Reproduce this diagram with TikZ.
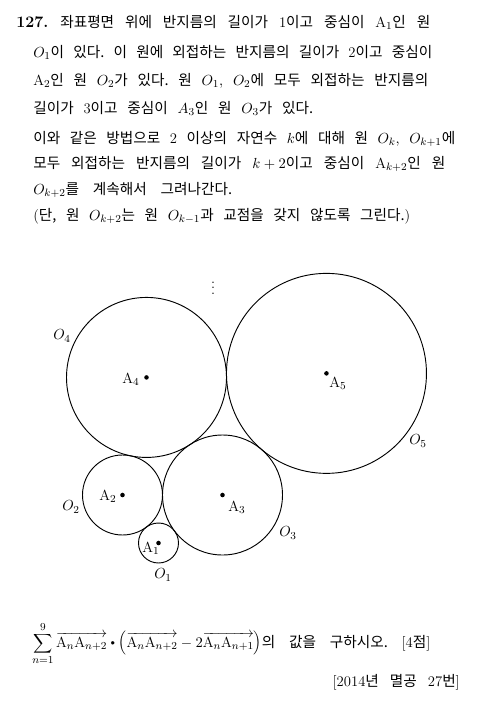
\documentclass[tikz,border=0pt]{standalone}
\usepackage{fontspec}
\newfontfamily\kr{Noto Sans CJK KR}
\newcommand\K[1]{{\fontsize{11pt}{13pt}\kr #1}}
\newdimen\pxu \pxu=0.75pt
\newcommand\smalldot{\mathbin{\vcenter{\hbox{\scalebox{0.6}{$\bullet$}}}}}
\tikzset{
  txt/.style={anchor=base west, inner sep=0pt,
    font={\fontsize{11pt}{13pt}\selectfont\frenchspacing\spaceskip=4.5pt plus 30pt minus 3pt}},
  lbl/.style={inner sep=0pt, font={\fontsize{11pt}{13pt}\selectfont}},
  circ/.style={line width=0.7pt},
  ctr/.style={circle, fill=black, inner sep=0pt, minimum size=3.4pt}
}
\begin{document}
\begin{tikzpicture}[x=0.75pt,y=-0.75pt]
\useasboundingbox (0,0) rectangle (478,703);

% ---------- problem text ----------
\node[anchor=base west, inner sep=0pt, font={\fontsize{12pt}{14pt}\selectfont\bfseries}] (num) at (16,27) {127.};
\node[txt] (l1) at (60,27) {\makebox[370\pxu][s]{\K{좌표평면 위에 반지름의 길이가} 1\K{이고 중심이} $\mathrm{A}_1$\K{인 원}}};
\node[txt] (l2) at (33,57) {\makebox[399\pxu][s]{$O_1$\K{이 있다. 이 원에 외접하는 반지름의 길이가} 2\K{이고 중심이}}};
\node[txt] (l3) at (33,85) {\makebox[395\pxu][s]{$\mathrm{A}_2$\K{인 원} $O_2$\K{가 있다. 원} $O_1,$ $O_2$\K{에 모두 외접하는 반지름의}}};
\node[txt] (l4) at (33,113) {\makebox[280\pxu][s]{\K{길이가} 3\K{이고 중심이} $A_3$\K{인 원} $O_3$\K{가 있다.}}};
\node[txt] (l5) at (33,143) {\makebox[422\pxu][s]{\K{이와 같은 방법으로} 2 \K{이상의 자연수} $k$\K{에 대해 원} $O_k,$ $O_{k+1}$\K{에}}};
\node[txt] (l6) at (33,168) {\makebox[412\pxu][s]{\K{모두 외접하는 반지름의 길이가} $k+2$\K{이고 중심이} $\mathrm{A}_{k+2}$\K{인 원}}};
\node[txt] (l7) at (33,194) {\makebox[199\pxu][s]{$O_{k+2}$\K{를 계속해서 그려나간다.}}};
\node[txt] (l8) at (33,220) {\makebox[377\pxu][s]{(\K{단,} \K{원} $O_{k+2}$\K{는 원} $O_{k-1}$\K{과 교점을 갖지 않도록 그린다.})}};

% ---------- figure ----------
\begin{scope}[shift={(122.5,495)}, x=15pt, y=15pt]
  \coordinate (A2) at (0,0);
  \coordinate (A1) at (1.8,-2.4);
  \coordinate (A3) at (5,0);
  \coordinate (A4) at (1.2,5.8788);
  \coordinate (A5) at (10.198,6.0815);
\end{scope}
\draw[circ] (A1) circle[radius=15pt];
\draw[circ] (A2) circle[radius=30pt];
\draw[circ] (A3) circle[radius=45pt];
\draw[circ] (A4) circle[radius=60pt];
\draw[circ] (A5) circle[radius=75pt];
\node[ctr] (d1) at (A1) {};
\node[ctr] (d2) at (A2) {};
\node[ctr] (d3) at (A3) {};
\node[ctr] (d4) at (A4) {};
\node[ctr] (d5) at (A5) {};

\node[lbl] (a1) at (151,548) {$\mathrm{A}_1$};
\node[lbl] (a2) at (108,496) {$\mathrm{A}_2$};
\node[lbl] (a3) at (237,507) {$\mathrm{A}_3$};
\node[lbl] (a4) at (131,379) {$\mathrm{A}_4$};
\node[lbl] (a5) at (338,383) {$\mathrm{A}_5$};

\node[lbl] (o1) at (163,575) {$O_1$};
\node[lbl] (o2) at (71,507) {$O_2$};
\node[lbl] (o3) at (288,533) {$O_3$};
\node[lbl] (o4) at (62,336) {$O_4$};
\node[lbl] (o5) at (418,441) {$O_5$};
\node[lbl] (vd) at (213,284) {$\vdots$};

% ---------- question ----------
\node[txt] (q) at (32,647) {\makebox[398\pxu][s]{$\displaystyle\sum_{n=1}^{9}\overrightarrow{\mathrm{A}_n\mathrm{A}_{n+2}}\smalldot\left(\overrightarrow{\mathrm{A}_n\mathrm{A}_{n+2}}-2\overrightarrow{\mathrm{A}_n\mathrm{A}_{n+1}}\right)$\K{의 값을 구하시오.} [4\K{점}]}};
\node[txt, anchor=base east] (src) at (460,686) {\makebox[127\pxu][s]{[2014\K{년 멸공} 27\K{번}]}};
\end{tikzpicture}
\end{document}
